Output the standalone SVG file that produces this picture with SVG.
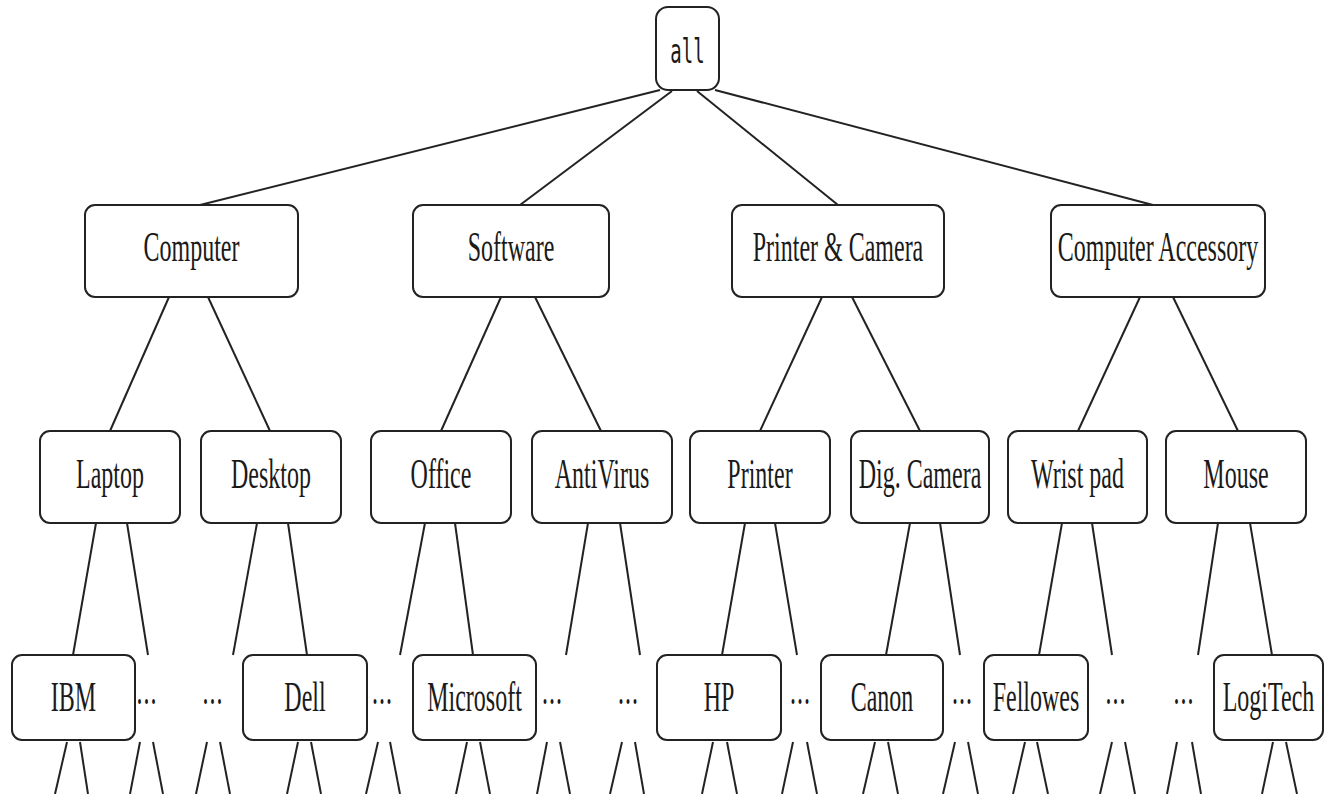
<svg xmlns="http://www.w3.org/2000/svg" width="1325" height="794" viewBox="0 0 1325 794">
<style>
.b{fill:#fff;stroke:#222;stroke-width:2}
.t{font-family:"Liberation Serif","Times New Roman",serif;font-size:24px;fill:#1a1a1a;text-anchor:middle}
.d{font-family:"Liberation Serif","Times New Roman",serif;font-size:24px;fill:#1a1a1a;text-anchor:middle;letter-spacing:1px}
.m{font-family:"DejaVu Sans Mono","Liberation Mono",monospace;font-size:19px;fill:#1a1a1a;text-anchor:middle}
#connectors line{stroke:#222;stroke-width:2}
</style>
<rect width="1325" height="794" fill="#fff"/>
<g id="connectors">
<line x1="660" y1="90" x2="200" y2="205"/>
<line x1="672" y1="91" x2="520" y2="205"/>
<line x1="697" y1="91" x2="838" y2="205"/>
<line x1="715" y1="90" x2="1153" y2="205"/>
<line x1="169" y1="297" x2="110" y2="431"/>
<line x1="208" y1="297" x2="270" y2="431"/>
<line x1="501" y1="297" x2="441" y2="431"/>
<line x1="535" y1="297" x2="601" y2="431"/>
<line x1="822" y1="297" x2="760" y2="431"/>
<line x1="852" y1="297" x2="920" y2="431"/>
<line x1="1140" y1="297" x2="1078" y2="431"/>
<line x1="1173" y1="297" x2="1238" y2="431"/>
<line x1="96" y1="523" x2="73" y2="655"/>
<line x1="127" y1="523" x2="148" y2="655"/>
<line x1="257" y1="523" x2="233" y2="655"/>
<line x1="288" y1="523" x2="307" y2="655"/>
<line x1="425" y1="523" x2="400" y2="655"/>
<line x1="455" y1="523" x2="473" y2="655"/>
<line x1="588" y1="523" x2="566" y2="655"/>
<line x1="620" y1="523" x2="640" y2="655"/>
<line x1="745" y1="523" x2="722" y2="655"/>
<line x1="775" y1="523" x2="797" y2="655"/>
<line x1="910" y1="523" x2="886" y2="655"/>
<line x1="940" y1="523" x2="960" y2="655"/>
<line x1="1062" y1="523" x2="1039" y2="655"/>
<line x1="1092" y1="523" x2="1112" y2="655"/>
<line x1="1218" y1="523" x2="1198" y2="655"/>
<line x1="1250" y1="523" x2="1272" y2="655"/>
<line x1="67" y1="742" x2="55" y2="794"/>
<line x1="80" y1="742" x2="88" y2="794"/>
<line x1="140" y1="742" x2="130" y2="794"/>
<line x1="153" y1="742" x2="163" y2="794"/>
<line x1="207" y1="742" x2="196" y2="794"/>
<line x1="220" y1="742" x2="230" y2="794"/>
<line x1="298" y1="742" x2="287" y2="794"/>
<line x1="311" y1="742" x2="321" y2="794"/>
<line x1="378" y1="742" x2="366" y2="794"/>
<line x1="390" y1="742" x2="400" y2="794"/>
<line x1="467" y1="742" x2="456" y2="794"/>
<line x1="480" y1="742" x2="490" y2="794"/>
<line x1="547" y1="742" x2="537" y2="794"/>
<line x1="560" y1="742" x2="570" y2="794"/>
<line x1="622" y1="742" x2="610" y2="794"/>
<line x1="635" y1="742" x2="644" y2="794"/>
<line x1="713" y1="742" x2="702" y2="794"/>
<line x1="727" y1="742" x2="737" y2="794"/>
<line x1="793" y1="742" x2="782" y2="794"/>
<line x1="807" y1="742" x2="817" y2="794"/>
<line x1="875" y1="742" x2="863" y2="794"/>
<line x1="888" y1="742" x2="898" y2="794"/>
<line x1="955" y1="742" x2="943" y2="794"/>
<line x1="968" y1="742" x2="978" y2="794"/>
<line x1="1025" y1="742" x2="1013" y2="794"/>
<line x1="1037" y1="742" x2="1048" y2="794"/>
<line x1="1112" y1="742" x2="1100" y2="794"/>
<line x1="1125" y1="742" x2="1135" y2="794"/>
<line x1="1177" y1="742" x2="1167" y2="794"/>
<line x1="1192" y1="742" x2="1201" y2="794"/>
<line x1="1273" y1="742" x2="1262" y2="794"/>
<line x1="1286" y1="742" x2="1297" y2="794"/>
</g>
<g id="n-all"><rect class="b" x="656" y="7" width="63" height="83" rx="12"/><text class="m" transform="translate(687.5,63) scale(1,1.75)">all</text></g>
<g id="n-computer"><rect class="b" x="85" y="205" width="213" height="92" rx="10"/><text class="t" transform="translate(191.5,261) scale(1,1.75)">Computer</text></g>
<g id="n-software"><rect class="b" x="413" y="205" width="196" height="92" rx="10"/><text class="t" transform="translate(511,261) scale(1,1.75)">Software</text></g>
<g id="n-printercamera"><rect class="b" x="732" y="205" width="212" height="92" rx="10"/><text class="t" transform="translate(838,261) scale(1,1.75)">Printer &amp; Camera</text></g>
<g id="n-accessory"><rect class="b" x="1051" y="205" width="214" height="92" rx="10"/><text class="t" transform="translate(1158,261) scale(1,1.75)">Computer Accessory</text></g>
<g id="n-laptop"><rect class="b" x="40" y="431" width="140" height="92" rx="10"/><text class="t" transform="translate(110,488) scale(1,1.75)">Laptop</text></g>
<g id="n-desktop"><rect class="b" x="201" y="431" width="140" height="92" rx="10"/><text class="t" transform="translate(271,488) scale(1,1.75)">Desktop</text></g>
<g id="n-office"><rect class="b" x="371" y="431" width="140" height="92" rx="10"/><text class="t" transform="translate(441,488) scale(1,1.75)">Office</text></g>
<g id="n-antivirus"><rect class="b" x="532" y="431" width="140" height="92" rx="10"/><text class="t" transform="translate(602,488) scale(1,1.75)">AntiVirus</text></g>
<g id="n-printer"><rect class="b" x="690" y="431" width="140" height="92" rx="10"/><text class="t" transform="translate(760,488) scale(1,1.75)">Printer</text></g>
<g id="n-digcamera"><rect class="b" x="851" y="431" width="138" height="92" rx="10"/><text class="t" transform="translate(920,488) scale(1,1.75)">Dig. Camera</text></g>
<g id="n-wristpad"><rect class="b" x="1008" y="431" width="139" height="92" rx="10"/><text class="t" transform="translate(1077.5,488) scale(1,1.75)">Wrist pad</text></g>
<g id="n-mouse"><rect class="b" x="1166" y="431" width="140" height="92" rx="10"/><text class="t" transform="translate(1236,488) scale(1,1.75)">Mouse</text></g>
<g id="n-ibm"><rect class="b" x="12" y="655" width="123" height="85" rx="10"/><text class="t" transform="translate(73.5,711) scale(1,1.75)">IBM</text></g>
<g id="n-dell"><rect class="b" x="243" y="655" width="124" height="85" rx="10"/><text class="t" transform="translate(305,711) scale(1,1.75)">Dell</text></g>
<g id="n-microsoft"><rect class="b" x="413" y="655" width="123" height="85" rx="10"/><text class="t" transform="translate(474.5,711) scale(1,1.75)">Microsoft</text></g>
<g id="n-hp"><rect class="b" x="657" y="655" width="124" height="85" rx="10"/><text class="t" transform="translate(719,711) scale(1,1.75)">HP</text></g>
<g id="n-canon"><rect class="b" x="821" y="655" width="122" height="85" rx="10"/><text class="t" transform="translate(882,711) scale(1,1.75)">Canon</text></g>
<g id="n-fellowes"><rect class="b" x="984" y="655" width="104" height="85" rx="10"/><text class="t" transform="translate(1036,711) scale(1,1.75)">Fellowes</text></g>
<g id="n-logitech"><rect class="b" x="1214" y="655" width="109" height="85" rx="10"/><text class="t" transform="translate(1268.5,711) scale(1,1.75)">LogiTech</text></g>
<g id="dots">
<text class="d" transform="translate(147,704) scale(1,1.75)">...</text>
<text class="d" transform="translate(213,704) scale(1,1.75)">...</text>
<text class="d" transform="translate(382.5,704) scale(1,1.75)">...</text>
<text class="d" transform="translate(552.5,704) scale(1,1.75)">...</text>
<text class="d" transform="translate(628.5,704) scale(1,1.75)">...</text>
<text class="d" transform="translate(800.5,704) scale(1,1.75)">...</text>
<text class="d" transform="translate(962.5,704) scale(1,1.75)">...</text>
<text class="d" transform="translate(1116,704) scale(1,1.75)">...</text>
<text class="d" transform="translate(1184,704) scale(1,1.75)">...</text>
</g>
</svg>
